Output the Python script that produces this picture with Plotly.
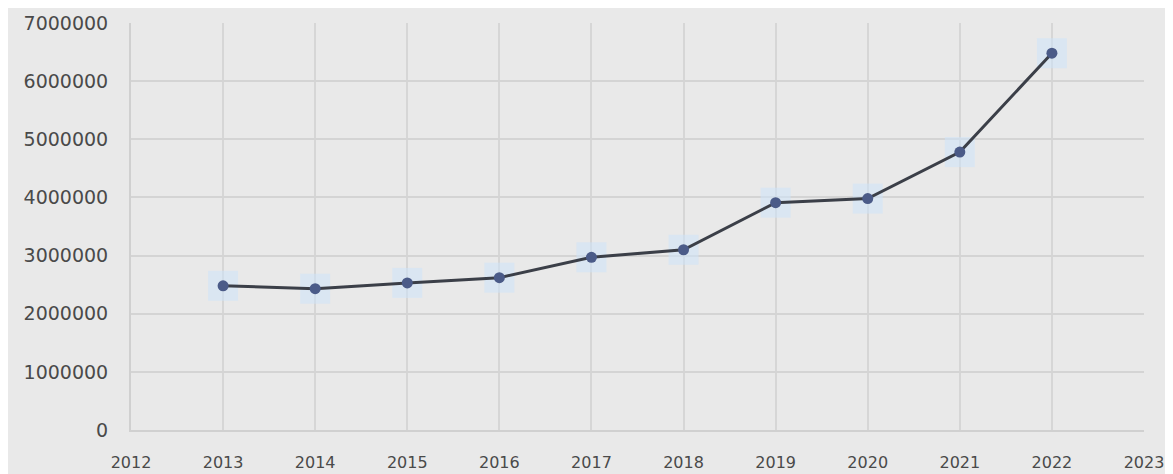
import plotly.graph_objects as go

years = [2013, 2014, 2015, 2016, 2017, 2018, 2019, 2020, 2021, 2022]
values = [2480000, 2430000, 2530000, 2620000, 2970000, 3100000, 3910000, 3980000, 4780000, 6480000]
x_ticks = list(range(2012, 2024))
y_ticks = [0, 1000000, 2000000, 3000000, 4000000, 5000000, 6000000, 7000000]

fig = go.Figure()
# faint highlight squares behind points
fig.add_trace(go.Scatter(
    x=years, y=values, mode="markers",
    marker=dict(symbol="square", size=30, color="rgba(205,228,250,0.55)", line=dict(width=0)),
    hoverinfo="skip", showlegend=False, cliponaxis=False))
fig.add_trace(go.Scatter(
    x=years, y=values, mode="lines+markers",
    line=dict(color="#3b3f48", width=3),
    marker=dict(color="#4b5b88", size=11),
    showlegend=False, cliponaxis=False))

fig.update_layout(
    width=1173, height=474,
    margin=dict(l=123, r=37, t=15, b=52, autoexpand=False),
    paper_bgcolor="#e9e9e9", plot_bgcolor="#e9e9e9",
    font=dict(family="DejaVu Sans", color="#4a4a4a"),
)
fig.update_xaxes(
    range=[2012, 2023], tickmode="array", tickvals=x_ticks,
    ticktext=[str(t) for t in x_ticks],
    showgrid=True, gridcolor="#d6d6d6", gridwidth=2,
    showline=True, linecolor="#d0d0d0", linewidth=2,
    zeroline=False, tickfont=dict(size=16, color="#4a4a4a"), ticklen=0,
    ticklabelstandoff=17, automargin=False,
)
fig.update_yaxes(
    range=[0, 7000000], tickmode="array", tickvals=y_ticks,
    ticktext=[str(t) for t in y_ticks],
    showgrid=True, gridcolor="#d4d4d4", gridwidth=1.5,
    showline=True, linecolor="#d0d0d0", linewidth=2,
    zeroline=False, tickfont=dict(size=19, color="#4a4a4a"), ticklen=0,
    ticklabelstandoff=17, automargin=False,
)
fig.write_html("out.html")
